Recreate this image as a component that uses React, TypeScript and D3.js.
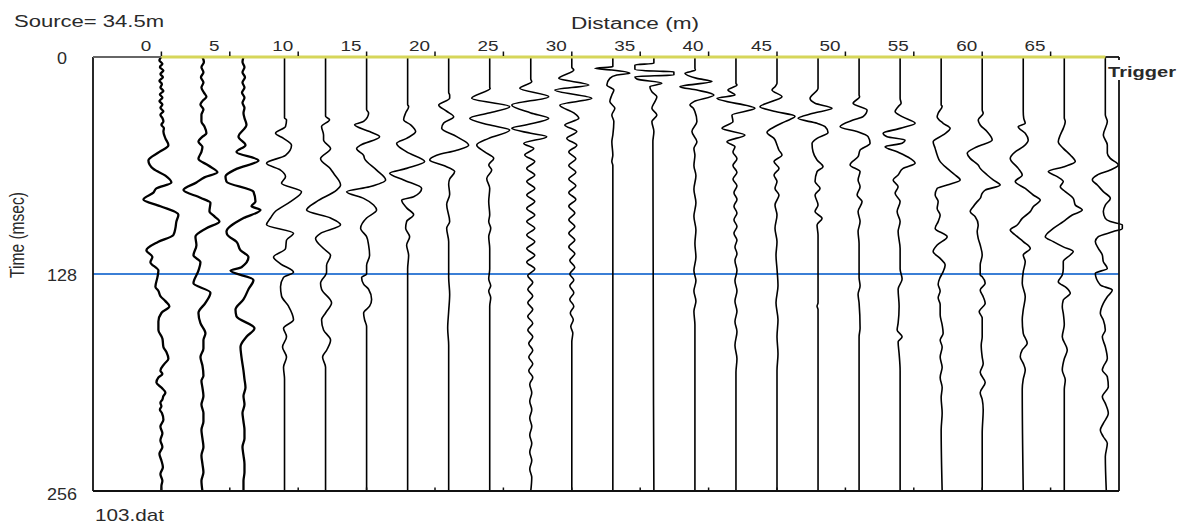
import React from 'react';
import * as d3 from 'd3';

// ---------- data ----------
const SOURCE_LABEL = 'Source= 34.5m';
const FILE_LABEL = '103.dat';
const X_TITLE = 'Distance (m)';
const Y_TITLE = 'Time (msec)';
const TRIGGER_LABEL = 'Trigger';
const X_TICKS = [0, 5, 10, 15, 20, 25, 30, 35, 40, 45, 50, 55, 60, 65];
const Y_TICKS = [0, 128, 256];
const BLUE_LINE_TIME = 128;
const X_DOMAIN: [number, number] = [-5, 70];
const T_DOMAIN: [number, number] = [0, 256];
// geophone offsets (m)
const OFFSETS = [0, 3, 6, 9, 12, 15, 18, 21, 24, 27, 30, 33, 36, 39, 42, 45, 48, 51, 54, 57, 60, 63, 66, 69];

type K = [number, number]; // [time ms, amplitude]
const T01: K[] = [[0,0],[2,-2],[4,1],[6,-1.5],[8,2],[10,-1],[12,1.5],[14,-2],[16,0.5],[18,-1],[20,2],[22,-1.5],[24,1],[26,-2],[28,1],[30,-1],[32,2],[34,-1],[36,1],[38,2],[40,0],[42,2.5],[44,2],[48,4],[52,7],[56,-2],[61,-13],[66,-8],[70,4],[74,10],[77.5,-5],[80,-8],[84,-18],[88,-1],[93,17],[97,15],[101,14],[105,12],[109,-3],[114,-15],[118,-9],[121,-11],[126,-3],[130,-4],[135.5,-6],[138,-3],[141,-1],[144,4],[147,8],[151,0],[156,-3],[161,-3],[166,1],[171,2],[174,5],[178,7],[181,3],[185,-1],[187,1],[189,-3],[192,-5],[195,0],[198,4],[200,2],[202,1],[204,-1],[206,0],[208,-1.5],[210,0.5],[214,2],[218,-1],[222,1],[226,-1],[230,1],[234,-2],[238,0],[242,1.5],[246,-1],[250,1],[253,0],[256,0]];
const T02: K[] = [[0,0],[3,1.5],[6,-1],[9,1],[12,-1.5],[15,1],[18,-1],[21,1.5],[23.5,4],[26,0],[28,-2],[31,1],[34,-1],[38,-1],[41,2],[45,4],[47,0],[50,-4],[53,0],[56,-1],[60,-4],[64,6],[68,15],[71,2],[74,-6],[78.5,-19],[83,-2],[86,8],[91,7],[94,12],[97,17],[101,4],[106,-7],[111,-6],[117,-9],[121,-2],[126,-4],[133.5,-9],[139,8],[145,3],[151,-4],[157,-2],[163,3],[167,1],[172,1],[177,-2],[182,0],[188,1],[191,-1],[195,0],[200,1],[205,-1],[210,1],[215,1],[220,-1],[225,0],[230,1],[235,-1],[240,0],[245,1],[250,-1],[256,0]];
const T03: K[] = [[0,0],[3,-1],[6,1],[9,-1],[12,1.5],[15,-1],[18,1],[21,-1.5],[24,1],[27,-1],[30,1],[33,0],[36,1],[40,3],[47,-5],[52,2],[56,-7],[61,15],[66,-7],[70.5,-18],[73.5,-17],[79.5,10],[85.3,12],[88,8],[90.3,17],[95,0],[103,-17],[105,-16],[109,-7],[114,-3],[118,5],[124,-2],[126,-13],[131.5,10],[137,5],[143,0],[149,-8],[153,-7],[160,11],[165,3],[171,-3],[177,-2],[185,0],[190,1],[195,2],[200,0],[205,1],[210,-1],[215,0],[220,1],[225,1],[230,-1],[235,0],[240,1],[245,1],[250,0],[256,0]];
const T04: K[] = [[0,0],[36,0],[37,2],[41,1],[45,-9],[48,-1],[52,7],[58,1],[62.7,-18],[66.7,-4],[70.6,1],[74.5,-3],[79.5,17],[85.3,6],[91,-9],[95,-14],[99,-18],[104,9],[108,2],[113,1],[118,-11],[122,-4],[127,9],[130,-1],[135.5,-4],[141,-3],[147,4],[155,9],[160,-1],[165,2],[171,-2],[177,2],[183,-1],[190,0],[256,0]];
const T05: K[] = [[0,0],[35,0],[37,4],[41,-4],[46,-2],[49,-2],[54,5],[60,-5],[66,5],[68.6,8],[75.5,15],[78.5,11],[85.3,-9],[90.3,-19],[95,5],[99,15],[104,-5],[107,-10],[113,-2],[117,5],[123,1],[127,1],[133.5,-5],[137,-4],[145,6],[151,0],[155,-4],[161,-2],[167,5],[173,1],[177,-3],[183,0],[195,0],[256,0]];
const T06: K[] = [[0,0],[31,0],[33,2],[38,-3],[40,-12],[44,3],[47,13],[52,-6],[54,-10],[58,-3],[60,-2],[66.7,10],[72.5,19],[76.5,3],[79.5,-20],[83.4,-3],[87.3,7],[90.3,10],[95,0],[101,-6],[106,0],[111,2],[117,3],[123,0],[128,0],[130,-5],[134,-3],[137,2],[143,5],[147,3],[151,-3],[155,-2],[159,0],[256,0]];
const T07: K[] = [[0,0],[28,0],[29.3,1],[33,-2],[37,-4],[40,3],[44,8],[48,-1],[51,-11],[56,-1],[61.7,17],[65.7,-1],[68.6,-18],[72.5,-4],[77.5,14],[82.4,6],[84.4,-6],[89,-1],[93,6],[97,-1],[101,-2],[106,2],[111,-1],[117,1],[125,0],[256,0]];
const T08: K[] = [[0,0],[21,0],[22.4,1],[24.4,1],[28.3,-10],[32,-2],[35.2,5],[39,-5],[42,-7],[47,8],[52,20],[55,8],[58,-12],[60.8,-19],[64,-5],[67.6,6],[72,1],[75,0],[81,1],[87,-2],[97,1],[101,-2],[109,0],[130,0],[140,1],[150,0],[160,-1],[170,0],[256,0]];
const T09: K[] = [[0,0],[18,0],[18.5,0.5],[24.4,-18],[29.3,20],[33,-1],[36.2,-20],[40,-1],[43.1,20],[48,-1],[51.9,-13],[56,-5],[59.8,4],[63.7,-1],[66.7,2],[71.6,-3],[77.5,0],[85.3,-1],[93,0],[97,-1],[101,1],[106,-1],[113,0],[125,0],[131,-1],[135,1],[138,-1],[142,1],[147,0],[256,0]];
const T10: K[] = [[0,0],[13,0],[14.5,1],[18.5,-11],[23.4,18],[28.3,-19],[33,0],[36.2,18],[40,-4],[42.1,-19],[45,0],[47,16],[51,-7],[54,3],[57.8,-6],[61.7,4],[65.7,-4],[69.6,4],[73.5,-4],[77.5,4],[81.4,-4],[85.3,4],[89.3,-4],[93.2,4],[97.1,-4],[101,4],[105,-4],[109,4],[113,-4],[117,4],[121,-4],[125,4],[129,-3],[133,2],[137,-3],[141,2],[145,-3],[149,2],[153,-3],[157,2],[161,-3],[165,2],[169,-2],[173,2],[177,-2],[181,2],[185,-2],[189,2],[193,-1],[198,1],[203,-1],[208,1],[213,-1],[218,1],[223,-1],[228,1],[233,-1],[238,1],[243,-1],[248,1],[256,0]];
const T11: K[] = [[0,0],[6,0],[7.7,2],[12.6,-13],[16.5,17],[19.5,-17],[24.4,20],[28.3,-12],[33,2],[36.2,7],[40.1,-7],[44,5],[48,-5],[52,5],[56,-3],[60,4],[64,-3],[68,4],[72,-3],[76,4],[80,-3],[84,4],[88,-3],[92,3],[96,-3],[100,3],[104,-3],[108,3],[112,-3],[116,3],[120,-2],[124,3],[128,-2],[131.5,2],[135,-2],[139,2],[143,-2],[147,2],[151,-1.5],[155,1.5],[159,-1],[163,1],[168,0],[256,0]];
const T12: K[] = [[0,0],[5.7,0],[6.7,-18],[7.7,-1],[9.6,17],[10.6,4],[12.6,-3],[16.5,-6],[19.5,1],[22.4,-1],[26.3,-3],[30.3,2],[34.2,-1],[38.1,1],[46,0],[50,-1],[57.8,0],[61.7,-1],[64,0],[256,0]];
const T13: K[] = [[0,0],[3.7,0],[4.7,-19],[7.2,-19],[8.3,0],[8.7,20],[10.6,20],[11.6,-19],[13,-17],[15.5,8],[17.5,-4],[20.5,-2],[23.4,3],[26.3,1],[30.3,-2],[34.2,3],[38.1,-2],[44,0],[50,-1],[256,0]];
const T14: K[] = [[0,0],[6.7,0],[7.7,0.5],[9.6,-10],[12.6,2],[14.5,17],[17.5,-15],[19.5,2],[22.4,19],[26.3,-1],[28.3,-5],[30,-2],[32.2,0],[38.1,2],[44,-3],[50,2],[54,-1],[58,0],[64,-1],[70,1],[78,-1],[86,1],[94,-1],[102,1],[110,0],[118,1],[126,-1],[132,1],[138,-1],[144,1],[150,-1],[158,0],[256,0]];
const T15: K[] = [[0,0],[15.5,0],[16.5,1],[19.5,-8],[22.4,-1],[24.4,-19],[30.3,19],[34.2,-4],[38.1,-3],[42.1,-14],[46,9],[50,-9],[53,-1],[56,-3],[60,1],[64,-3],[68,1],[72,-3],[76,1],[80,-2],[84,1],[88,-2],[92,1],[96,-2],[100,1],[104,-2],[108,1],[112,-1],[116,1],[120,-1],[126,1],[132,-1],[138,1],[144,-1],[150,1],[156,-1],[162,1],[170,-1],[178,1],[186,0],[256,0]];
const T16: K[] = [[0,0],[15.5,0],[17.5,-2],[19.5,-5],[23.4,5],[26,-4],[29.3,-17],[32,-3],[35,18],[38.1,8],[41,-2],[44.5,-10],[48,-3],[51.9,0],[55,2],[57.8,5],[61.7,-3],[65.7,2],[69.6,-3],[73.5,0],[77.5,-2],[81.4,2],[87.3,-2],[93.2,0],[101,-2],[109,0],[117,-1],[125,0],[135,1],[145,-1],[155,1],[165,0],[175,1],[185,0],[256,0]];
const T17: K[] = [[0,0],[18.5,0],[24.4,-8],[27.3,-3],[30.3,14],[33.2,-5],[36.2,-20],[39.1,-1],[41.1,7],[44.5,10],[48,-1],[51,-6],[55.9,-5],[60.8,-1],[64.7,5],[67.6,-1],[73.5,-3],[77.5,2],[81.4,-3],[87.3,0],[91.2,-3],[95.2,4],[99.1,-1],[105,0],[117,0],[145,0],[147,-1],[149,0],[256,0]];
const T18: K[] = [[0,0],[22.4,0],[23.4,0.5],[27.3,-6],[31.3,8],[35.2,4],[37.2,-6],[41.1,-19],[44,-2],[47,9],[50.9,11],[54.9,1],[58.8,-1],[63.7,-9],[67.6,1],[72.5,-1],[76.5,1],[81.4,-2],[85.3,3],[91.2,-1],[97.1,1],[103,-1],[110,0],[130,0],[135,1],[140,-1],[145,0],[160,1],[165,0],[256,0]];
const T19: K[] = [[0,0],[24.4,0],[27.3,1],[29.3,-2],[32.2,-5],[35.2,2],[39.1,15],[42.1,0],[45,-17],[47,-13],[49,5],[50.9,2],[52.9,-15],[55.9,-3],[59.8,10],[62.7,15],[65.7,3],[69.6,-2],[72.5,-7],[76.5,-2],[80.4,-5],[85.3,0],[91.2,-3],[97.1,0],[103,-2],[113,0],[125,0],[131,2],[137,-2],[147,-1],[157,-2],[161,-3],[165,2],[168,-2],[175,-1],[185,0],[256,0]];
const T20: K[] = [[0,0],[28.3,0],[29,1],[33.2,-3],[35.2,-4],[39.1,2],[42.1,9],[46,2],[50,-8],[53.9,-6],[57.8,-4],[61.7,-1],[65.7,6],[69.6,14],[72.5,19],[75.5,6],[77.5,-4],[81.4,-6],[85.3,-3],[89.3,-4],[93.2,-1],[97.1,-3],[101.1,-6],[106,6],[110.9,-4],[114.8,-8],[118.8,-1],[122.7,4],[126.6,2],[130,-1],[134,-3],[138,-1],[142,-3],[146,-1],[152,-1],[158,1],[163,2],[167,-1],[171,1],[177,-1],[183,1],[189,-1],[195,1],[201,0],[210,1],[220,0],[256,1]];
const T21: K[] = [[0,0],[31.3,0],[33.2,1],[37.2,-4],[40.1,-2],[44.1,5],[49,10],[52.9,-5],[56.8,-15],[59.8,-12],[63.7,-4],[65.7,-2],[69.6,5],[72.5,11],[75.5,18],[78.5,3],[80.4,0],[83.4,-2],[85.3,-5],[88.3,-9],[91.2,-12],[94.2,-7],[99.1,-4],[103,-5],[107,-4],[110.9,-2],[116.8,0],[122.7,-2],[128.6,-2],[129.6,0],[133.5,3],[137.4,-2],[141.4,1],[145.3,3],[150.2,-3],[154,0],[165,0],[170,-1],[177,0],[181,1],[186,-2],[192,3],[198,-2],[202,0],[208,1],[222,0],[256,0]];
const T22: K[] = [[0,0],[32,0],[36.2,0.5],[39.1,2],[41.1,-5],[45,2],[49,5],[52.9,0],[55.9,-8],[59.8,-13],[65.7,-5],[69.6,-1],[73.5,-8],[77.5,2],[81.4,10],[84.4,17],[88.3,10],[91.2,7],[95.2,-1],[99.1,-6],[102.1,-13],[105,-8],[108.9,0],[112.9,7],[116.8,0],[120.7,2],[126.6,0],[133.5,-1],[141.4,2],[149.2,0],[155,-1],[163,0],[168.9,4],[172.8,-1],[176.8,-3],[180.7,0],[184.6,2],[190,0],[196,-1],[256,0]];
const T23: K[] = [[0,0],[36,0],[38.1,1],[42.1,-1],[46,-4],[50,-6],[53.9,-1],[57.8,6],[61.7,11],[64.7,0],[67.6,-16],[70.6,-7],[73.5,-1],[76.5,-4],[79.4,1],[83.4,9],[87.3,11],[90.3,18],[93.2,8],[97.1,-1],[101.1,-11],[106,-19],[108.9,-11],[112,-1],[114.8,9],[116.8,6],[120.7,-1],[124.7,-1],[128.6,-2],[132.5,-6],[136,2],[139.4,6],[143.3,-1],[147.3,-2],[151.2,-1],[158,0],[165,-2],[172.8,3],[178,0],[184.6,-2],[190.5,1],[196,0],[256,0]];
const T24: K[] = [[0,0],[34,0],[38.1,2],[46,-2],[51.9,2],[56.8,2],[59.8,5],[63.7,13],[66.7,5],[69.6,-8],[72.5,-13],[75.5,-8],[79.4,-2],[83.4,5],[87.3,0],[91.2,-2],[95.2,0],[97.1,5],[99.1,17],[101.1,17],[103,8],[106,-7],[108.9,-10],[112.9,-7],[116.8,-3],[120.7,-2],[124.7,2],[127.6,-10],[134.5,-5],[137.5,7],[141.4,2],[145.3,-2],[151.2,-5],[155.1,-2],[161,0],[165,-3],[170.9,0],[177.8,2],[182.7,-2],[184.6,-3],[188.6,2],[194.5,3],[200.4,-3],[204.3,0],[210.2,3],[216.1,-2],[220,-5],[224,-2],[227.9,2],[235.8,0],[256,1]];
const TRACES: K[][] = [T01,T02,T03,T04,T05,T06,T07,T08,T09,T10,T11,T12,T13,T14,T15,T16,T17,T18,T19,T20,T21,T22,T23,T24];

// ---------- layout / style ----------
const W = 1192, H = 526;
const PLOT = { left: 93, right: 1119, top: 57, bottom: 491 };
const FONT = '"Liberation Sans", Arial, sans-serif';
const TEXT_COLOR = '#2a2a2a';

function SText(props: { x: number; y: number; len?: number; size: number; anchor?: string; weight?: string; children: React.ReactNode }) {
  const { x, y, len, size, anchor = 'start', weight = 'normal', children } = props;
  return (
    <text x={x} y={y} fontSize={size} fontFamily={FONT} fill={TEXT_COLOR} fontWeight={weight}
      textAnchor={anchor} textLength={len} lengthAdjust={len ? 'spacingAndGlyphs' : undefined}>
      {children}
    </text>
  );
}

export default function App() {
  const x = d3.scaleLinear().domain(X_DOMAIN).range([PLOT.left, PLOT.right]);
  const y = d3.scaleLinear().domain(T_DOMAIN).range([PLOT.top, PLOT.bottom]);
  const amp = d3.scaleLinear().domain([-1, 1]).range([-1, 1]); // amplitude gain (px per unit)
  const firstX = x(OFFSETS[0]);
  const lastX = x(OFFSETS[OFFSETS.length - 1]);

  return (
    <svg width={W} height={H} style={{ position: 'absolute', left: 0, top: 0, background: '#fff' }}>
      <rect x={0} y={0} width={W} height={H} fill="#fff" />
      {/* titles */}
      <SText x={14} y={27} size={16} len={150}>{SOURCE_LABEL}</SText>
      <SText x={635} y={29} size={16} len={128} anchor="middle">{X_TITLE}</SText>
      <SText x={95} y={521} size={17} len={69}>{FILE_LABEL}</SText>
      <text transform={`translate(24,235) scale(1.35,1) rotate(-90)`} fontSize={15.5} fontFamily={FONT}
        fill={TEXT_COLOR} textAnchor="middle" textLength={86} lengthAdjust="spacingAndGlyphs">{Y_TITLE}</text>

      {/* x tick labels */}
      {X_TICKS.map(v => (
        <SText key={'xl' + v} x={x(v) - 15.5} y={50.5} size={14.5} anchor="middle"
          len={String(v).length * 10.5}>{v}</SText>
      ))}
      {/* y tick labels */}
      {Y_TICKS.map((v, i) => (
        <SText key={'yl' + v} x={62} y={y(v) + (i === Y_TICKS.length - 1 ? 9 : 6.5)} size={16.5} anchor="middle"
          len={String(v).length * 10}>{v}</SText>
      ))}

      {/* blue line */}
      <line x1={PLOT.left} x2={PLOT.right} y1={y(BLUE_LINE_TIME)} y2={y(BLUE_LINE_TIME)} stroke="#3b7fd6" strokeWidth={2} />

      {/* traces */}
      {TRACES.map((tr, i) => {
        const base = x(OFFSETS[i]);
        const line = d3.line<K>().x(d => base + amp(d[1])).y(d => y(d[0])).curve(d3.curveMonotoneY);
        return <path key={'tr' + i} d={line(tr) || ''} fill="none" stroke="#000"
          strokeWidth={i < 3 ? 2.3 : 1.6} />;
      })}

      {/* frame */}
      <line x1={PLOT.left} x2={PLOT.left} y1={PLOT.top} y2={PLOT.bottom} stroke="#111" strokeWidth={1.8} />
      <line x1={PLOT.left} x2={PLOT.right} y1={PLOT.bottom} y2={PLOT.bottom} stroke="#111" strokeWidth={1.8} />
      <line x1={PLOT.right} x2={PLOT.right} y1={y(0)} y2={y(0) + 3} stroke="#111" strokeWidth={1.8} />
      <line x1={PLOT.right} x2={PLOT.right} y1={80} y2={PLOT.bottom} stroke="#111" strokeWidth={1.8} />
      <line x1={PLOT.left} x2={firstX} y1={PLOT.top} y2={PLOT.top} stroke="#666" strokeWidth={2} />
      <line x1={lastX} x2={PLOT.right} y1={PLOT.top} y2={PLOT.top} stroke="#111" strokeWidth={1.8} />
      <line x1={firstX} x2={lastX} y1={PLOT.top} y2={PLOT.top} stroke="#d6d65a" strokeWidth={3} />

      {/* ticks */}
      {X_TICKS.map(v => (
        <g key={'tk' + v}>
          <line x1={x(v)} x2={x(v)} y1={PLOT.top - 5.5} y2={PLOT.top - 1} stroke="#111" strokeWidth={1.5} />
          <line x1={x(v)} x2={x(v)} y1={PLOT.bottom - 3.5} y2={PLOT.bottom} stroke="#111" strokeWidth={1.5} />
        </g>
      ))}

      {/* trigger label */}
      <SText x={1108} y={77} size={15} weight="bold" len={68}>{TRIGGER_LABEL}</SText>
    </svg>
  );
}
